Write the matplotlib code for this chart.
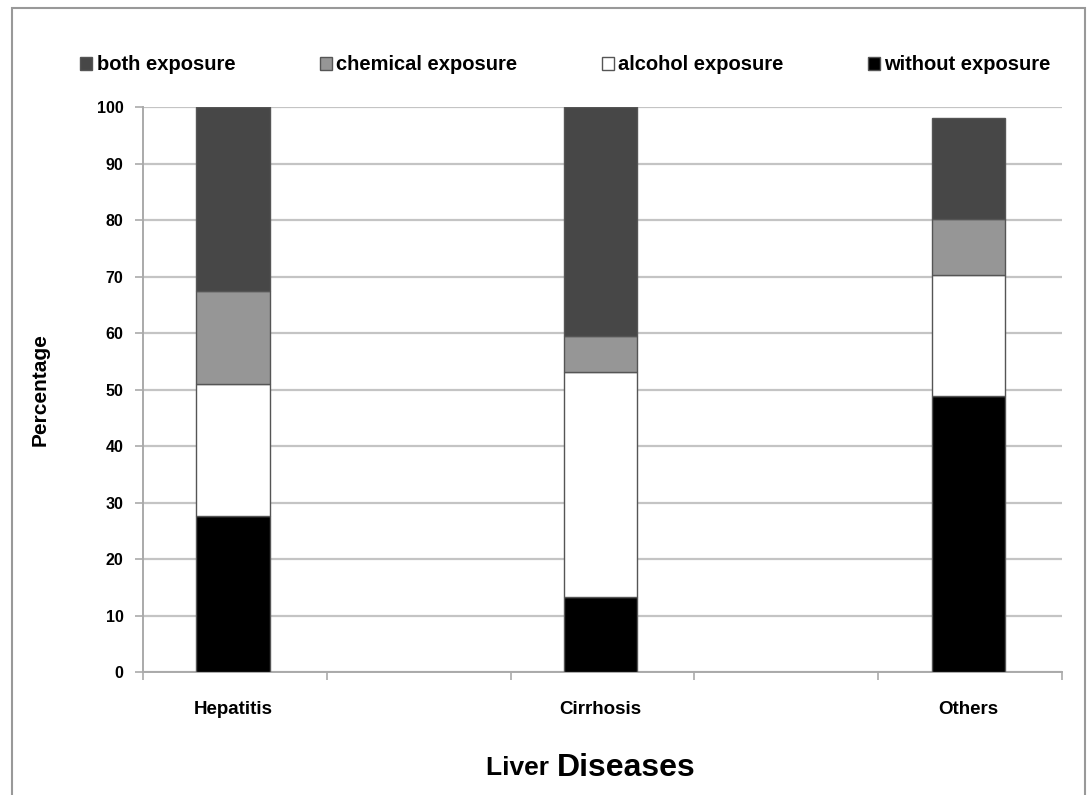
import matplotlib
matplotlib.use("Agg")
import matplotlib.pyplot as plt
from matplotlib.patches import Rectangle

plt.rcParams['font.family'] = ["Liberation Sans", "DejaVu Sans"]

categories = ["Hepatitis", "Cirrhosis", "Others"]
without_exposure = [27.6, 13.2, 48.8]
alcohol_exposure = [23.4, 39.9, 21.5]
chemical_exposure = [16.5, 6.4, 9.8]
both_exposure = [32.5, 40.5, 17.9]
yticks = list(range(0, 101, 10))

fig = plt.figure(figsize=(10.87, 7.95), dpi=100)
ax = fig.add_axes([143/1087, 1-672/795, (1062-143)/1087, (672-107)/795])

x = list(range(len(categories)))
w = 0.2
ec = "#555555"
b1 = ax.bar(x, without_exposure, w, color="black", edgecolor=ec, lw=1, zorder=3, label="without exposure")
bot = without_exposure
b2 = ax.bar(x, alcohol_exposure, w, bottom=bot, color="white", edgecolor=ec, lw=1, zorder=3, label="alcohol exposure")
bot = [a + b for a, b in zip(bot, alcohol_exposure)]
b3 = ax.bar(x, chemical_exposure, w, bottom=bot, color="#969696", edgecolor=ec, lw=1, zorder=3, label="chemical exposure")
bot = [a + b for a, b in zip(bot, chemical_exposure)]
b4 = ax.bar(x, both_exposure, w, bottom=bot, color="#474747", edgecolor=ec, lw=1, zorder=3, label="both exposure")

ax.set_xlim(-0.245, 2.255)
ax.set_ylim(0, 100)
ax.set_yticks(yticks)
ax.set_yticklabels([str(v) for v in yticks], fontsize=11.5, fontweight="bold")
ax.set_xticks(x)
ax.set_xticklabels(categories, fontsize=13.5, fontweight="bold")
ax.tick_params(axis="x", length=0, pad=21)
ax.set_xticks([-0.245 + 0.5 * i for i in range(6)], minor=True)
ax.tick_params(axis="x", which="minor", length=6, color="#aaaaaa", width=1.2)
ax.tick_params(axis="y", length=6, color="#aaaaaa", width=1.2, pad=8)
ax.yaxis.grid(True, color="#c4c4c4", lw=1.6, zorder=0)
for s in ["top", "right"]:
    ax.spines[s].set_visible(False)
for s in ["left", "bottom"]:
    ax.spines[s].set_color("#aaaaaa")
    ax.spines[s].set_linewidth(1.4)

ax.set_ylabel("Percentage", fontsize=15, fontweight="bold", labelpad=34)

fig.text(0.5 + 0.012, 1 - 768/795, "Liver ", ha="right", va="center", fontsize=19, fontweight="bold")
fig.text(0.5 + 0.012, 1 - 768/795, "Diseases", ha="left", va="center", fontsize=23, fontweight="bold")

fig.legend(handles=[b4, b3, b2, b1], labels=["both exposure", "chemical exposure", "alcohol exposure", "without exposure"],
           loc="center", bbox_to_anchor=(0.52, 1 - 65/795), ncol=4, frameon=False,
           prop={"size": 14.5, "weight": "bold"}, handlelength=0.6, handleheight=0.6,
           handletextpad=0.2, columnspacing=4.2)

fig.patches.append(Rectangle((12/1087, -0.05), (1085-12)/1087, 1.05 - 8/795, transform=fig.transFigure,
                             fill=False, edgecolor="#999999", lw=1.5))

fig.savefig("out.png", dpi=100)
